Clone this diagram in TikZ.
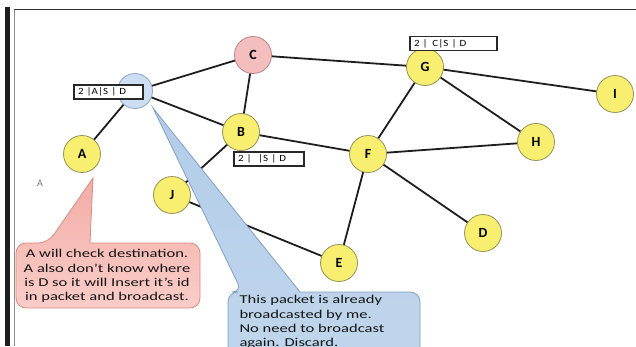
\documentclass[tikz,border=0pt]{standalone}
\usepackage{fontspec}
\setmainfont{Carlito}
\newfontfamily\widefont[FakeStretch=1.38]{Carlito}
\newfontfamily\lblfont[FakeStretch=1.15]{Carlito}
\begin{document}
\begin{tikzpicture}[x=1pt,y=-1pt,
  nd/.style={circle, minimum size=37pt, inner sep=0pt, draw={rgb,255:red,150;green,145;blue,90}, line width=0.8pt, fill={rgb,255:red,248;green,238;blue,112}, font=\fontsize{14}{14}\selectfont\bfseries},
  edge/.style={draw={rgb,255:red,30;green,30;blue,30}, line width=1.8pt},
  lbl/.style={draw={rgb,255:red,40;green,40;blue,40}, line width=1.2pt, fill=white, minimum height=14pt, inner ysep=0pt, inner xsep=4pt, align=left, font=\lblfont\fontsize{9.5}{9.5}\selectfont},
  redcall/.style={draw={rgb,255:red,215;green,140;blue,130}, line width=0.8pt, top color={rgb,255:red,243;green,172;blue,166}, bottom color={rgb,255:red,250;green,205;blue,200}},
  bluecall/.style={draw={rgb,255:red,130;green,160;blue,195}, line width=0.8pt, top color={rgb,255:red,178;green,204;blue,232}, bottom color={rgb,255:red,192;green,214;blue,236}},
  calltxt/.style={font=\widefont\fontsize{12}{14.2}\selectfont, text={rgb,255:red,20;green,20;blue,20}}
]
\useasboundingbox (0,0) rectangle (636,346);
\begin{scope}
\clip (0,0) rectangle (636,346);
% frame
\fill[black!88] (5,7) rectangle (10,346);
\draw[black!45, line width=1.2pt] (14.5,346) -- (14.5,10);
\draw[black!80, line width=1.3pt] (14,9.5) -- (636,9.5);

% node positions
\coordinate (C) at (253,55);
\coordinate (S) at (135,91);
\coordinate (A) at (82,154);
\coordinate (B) at (241,132);
\coordinate (G) at (425,67);
\coordinate (I) at (615,94);
\coordinate (H) at (536,142);
\coordinate (F) at (368,154);
\coordinate (J) at (172,195);
\coordinate (D) at (483,233);
\coordinate (E) at (339,263);

% edges
\foreach \a/\b in {C/S, C/G, C/B, S/A, S/B, B/F, B/J, G/F, G/H, G/I, F/H, F/E, F/D, J/E}
  \path[edge] (\a) -- (\b);

% nodes
\node[nd, fill={rgb,255:red,244;green,190;blue,190}, draw={rgb,255:red,190;green,130;blue,130}] (nC) at (C) {C};
\node[nd, fill={rgb,255:red,205;green,222;blue,242}, draw={rgb,255:red,140;green,165;blue,195}, minimum size=35pt] (nS) at (S) {};
\node[nd] (nA) at (A) {A};
\node[nd] (nB) at (B) {B};
\node[nd] (nG) at (G) {G};
\node[nd] (nI) at (I) {I};
\node[nd] (nH) at (H) {H};
\node[nd] (nF) at (F) {F};
\node[nd] (nJ) at (J) {J};
\node[nd] (nD) at (D) {D};
\node[nd] (nE) at (E) {E};

% packet labels
\node[lbl, text width=61pt] (lS) at (108.5,92) {2 |A|S | D};
\node[lbl, text width=79pt] (lG) at (453.5,43.5) {2 | \,C|S | D};
\node[lbl, text width=62pt] (lB) at (269,159) {2 | \,\,|S | D};

% stray letter
\node[text=black!55, font=\fontsize{10}{10}\selectfont] (sa) at (40,183) {A};

% red callout
\coordinate (rtip) at (93,178);
\path[redcall, rounded corners=10] (90,243) -- (200,243) -- (200,308) -- (16,308) -- (16,243) -- (48,243) [sharp corners] -- (rtip) -- cycle;
\node[calltxt, align=center] (rt) at (107,276) {A will check destination.\\A also don’t know where\\is D so it will Insert it’s id\\in packet and broadcast.};

% blue callout
\coordinate (btip) at (153,108);
\path[bluecall, rounded corners=10] (300,292) -- (420,292) -- (420,360) -- (228,360) -- (228,292) -- (242,292) [sharp corners] -- (btip) -- cycle;
\node[calltxt, align=left, anchor=north west] (bt) at (236,292) {This packet is already\\broadcasted by me.\\No need to broadcast\\again. Discard.};
\end{scope}
\end{tikzpicture}
\end{document}
